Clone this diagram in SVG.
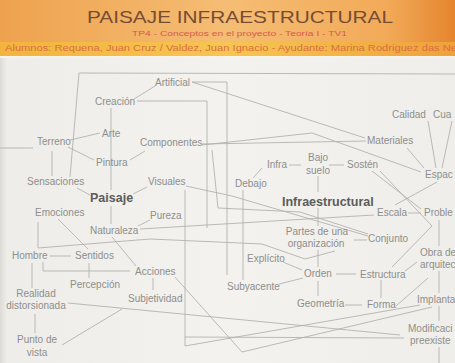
<svg xmlns="http://www.w3.org/2000/svg" width="455" height="363" viewBox="0 0 455 363">
<defs>
<linearGradient id="hdr" x1="0" y1="0" x2="1" y2="0">
<stop offset="0" stop-color="#eea24e"/>
<stop offset="0.5" stop-color="#f5bd74"/>
<stop offset="0.85" stop-color="#f2aa58"/>
<stop offset="1" stop-color="#e5852e"/>
</linearGradient>
<linearGradient id="stripe" x1="0" y1="0" x2="1" y2="0">
<stop offset="0" stop-color="#f2b43e"/>
<stop offset="0.5" stop-color="#f6c650"/>
<stop offset="1" stop-color="#eea23a"/>
</linearGradient>
<linearGradient id="page" x1="0" y1="0" x2="1" y2="0">
<stop offset="0" stop-color="#dcdbd6"/>
<stop offset="0.015" stop-color="#eeede9"/>
<stop offset="0.5" stop-color="#f3f2ee"/>
<stop offset="1" stop-color="#efeeea"/>
</linearGradient>
</defs>
<style>
.n{font-family:"Liberation Sans",Arial,sans-serif;font-size:10px;fill:#8e8e8c}
.b{font-family:"Liberation Sans",Arial,sans-serif;font-size:12.5px;font-weight:bold;fill:#5c5c5a}
.m{text-anchor:middle}
#connectors path{fill:none;stroke:#afafad;stroke-width:0.85}
</style>
<rect x="0" y="0" width="455" height="363" fill="url(#page)"/>
<g id="header">
<rect x="0" y="0" width="455" height="43" fill="url(#hdr)"/>
<rect x="0" y="42" width="455" height="14" fill="url(#stripe)"/>
<rect x="0" y="56" width="455" height="2" fill="#f7f3ea"/>
<text x="87" y="23" font-family="Liberation Sans, Arial, sans-serif" font-size="17" fill="#774c33" textLength="306" lengthAdjust="spacingAndGlyphs">PAISAJE INFRAESTRUCTURAL</text>
<text x="132" y="36" font-family="Liberation Sans, Arial, sans-serif" font-size="8" fill="#d65a4c" textLength="215" lengthAdjust="spacingAndGlyphs">TP4 - Conceptos en el proyecto - Teoría I - TV1</text>
<text x="5" y="51" font-family="Liberation Sans, Arial, sans-serif" font-size="8.5" fill="#da6e42" textLength="452" lengthAdjust="spacingAndGlyphs">Alumnos: Requena, Juan Cruz / Valdez, Juan Ignacio - Ayudante: Marina Rodriguez das Ne</text>
</g>
<g id="connectors">
<path d="M79,73 L455,74"/>
<path d="M79,73 L70,177"/>
<path d="M52,151 L52,176"/>
<path d="M0,148 L33,148"/>
<path d="M70,140 L100,133"/>
<path d="M68,147 L94,160"/>
<path d="M134,99 L155,86"/>
<path d="M137,101 L207,101 L207,228"/>
<path d="M111,108 L111,190"/>
<path d="M111,206 L111,224"/>
<path d="M130,160 L145,151"/>
<path d="M192,82 L365,138"/>
<path d="M192,82 L227,82 L227,275"/>
<path d="M202,144 L366,141"/>
<path d="M202,145 L312,133 L421,172"/>
<path d="M407,148 L424,168"/>
<path d="M428,121 L436,168"/>
<path d="M452,121 L442,168"/>
<path d="M289,165 L301,165"/>
<path d="M329,165 L344,165"/>
<path d="M262,168 L253,178"/>
<path d="M243,190 L243,280"/>
<path d="M318,176 L318,192 M318,208 L318,226 M318,250 L318,267 M318,281 L318,296"/>
<path d="M372,171 L421,209"/>
<path d="M380,171 L432,226 L392,267"/>
<path d="M437,182 L395,205"/>
<path d="M408,213 L421,213"/>
<path d="M439,220 L439,246"/>
<path d="M439,271 L439,293"/>
<path d="M439,306 L439,321"/>
<path d="M439,347 L439,363"/>
<path d="M405,271 L417,262"/>
<path d="M396,306 L428,278"/>
<path d="M354,240 L367,240"/>
<path d="M336,274 L356,274"/>
<path d="M345,305 L362,305"/>
<path d="M381,280 L381,298"/>
<path d="M283,262 L302,270"/>
<path d="M279,284 L303,278"/>
<path d="M186,186 L232,196 L368,236"/>
<path d="M140,229 L374,215"/>
<path d="M212,150 L218,208 L300,212 L368,234"/>
<path d="M138,226 L150,220"/>
<path d="M38,222 L38,248 L150,239 L262,244 L305,259 L335,251"/>
<path d="M58,219 L88,249"/>
<path d="M77,188 L90,195"/>
<path d="M147,187 L133,194"/>
<path d="M112,237 L136,266"/>
<path d="M43,262 L43,271 L130,271"/>
<path d="M50,256 L71,256"/>
<path d="M89,263 L89,278"/>
<path d="M153,278 L153,290"/>
<path d="M32,263 L32,288"/>
<path d="M35,314 L35,333"/>
<path d="M62,345 L122,309"/>
<path d="M68,303 L400,335"/>
<path d="M175,277 L242,352 L432,307"/>
<path d="M185,190 L185,346 L420,305"/>
<path d="M185,337 L404,338"/>
</g>
<g id="n-artificial"><text class="n" x="155" y="86">Artificial</text></g>
<g id="n-creacion"><text class="n" x="95" y="105">Creación</text></g>
<g id="n-arte"><text class="n" x="102" y="137">Arte</text></g>
<g id="n-terreno"><text class="n" x="37" y="145">Terreno</text></g>
<g id="n-componentes"><text class="n" x="140" y="146">Componentes</text></g>
<g id="n-pintura"><text class="n" x="96" y="166">Pintura</text></g>
<g id="n-sensaciones"><text class="n" x="27" y="185">Sensaciones</text></g>
<g id="n-visuales"><text class="n" x="148" y="185">Visuales</text></g>
<g id="n-paisaje"><text class="b" x="90" y="202">Paisaje</text></g>
<g id="n-emociones"><text class="n" x="35" y="216">Emociones</text></g>
<g id="n-pureza"><text class="n" x="150" y="219">Pureza</text></g>
<g id="n-naturaleza"><text class="n" x="90" y="234">Naturaleza</text></g>
<g id="n-hombre"><text class="n" x="12" y="259">Hombre</text></g>
<g id="n-sentidos"><text class="n" x="75" y="259">Sentidos</text></g>
<g id="n-acciones"><text class="n" x="135" y="275">Acciones</text></g>
<g id="n-percepcion"><text class="n" x="70" y="288">Percepción</text></g>
<g id="n-subjetividad"><text class="n" x="128" y="302">Subjetividad</text></g>
<g id="n-realidad"><text class="n m" x="36" y="297">Realidad</text><text class="n m" x="36" y="309">distorsionada</text></g>
<g id="n-punto"><text class="n m" x="37" y="343">Punto de</text><text class="n m" x="37" y="356">vista</text></g>
<g id="n-materiales"><text class="n" x="367" y="144">Materiales</text></g>
<g id="n-calidad"><text class="n" x="392" y="118">Calidad</text></g>
<g id="n-cua"><text class="n" x="433" y="118">Cua</text></g>
<g id="n-infra"><text class="n" x="267" y="168">Infra</text></g>
<g id="n-bajosuelo"><text class="n m" x="318" y="161">Bajo</text><text class="n m" x="318" y="174">suelo</text></g>
<g id="n-sosten"><text class="n" x="347" y="168">Sostén</text></g>
<g id="n-debajo"><text class="n" x="235" y="187">Debajo</text></g>
<g id="n-espacio"><text class="n" x="425" y="178">Espac</text></g>
<g id="n-infraestructural"><text class="b" x="282" y="206">Infraestructural</text></g>
<g id="n-escala"><text class="n" x="377" y="216">Escala</text></g>
<g id="n-problema"><text class="n" x="424" y="216">Proble</text></g>
<g id="n-partes"><text class="n m" x="317" y="235">Partes de una</text><text class="n m" x="316" y="247">organización</text></g>
<g id="n-conjunto"><text class="n" x="368" y="242">Conjunto</text></g>
<g id="n-obra"><text class="n" x="420" y="256">Obra de</text><text class="n" x="420" y="268">arquitec</text></g>
<g id="n-explicito"><text class="n" x="247" y="262">Explícito</text></g>
<g id="n-orden"><text class="n" x="304" y="277">Orden</text></g>
<g id="n-estructura"><text class="n" x="360" y="278">Estructura</text></g>
<g id="n-subyacente"><text class="n" x="227" y="290">Subyacente</text></g>
<g id="n-geometria"><text class="n" x="297" y="307">Geometría</text></g>
<g id="n-forma"><text class="n" x="367" y="308">Forma</text></g>
<g id="n-implantacion"><text class="n" x="417" y="303">Implanta</text></g>
<g id="n-modificacion"><text class="n" x="408" y="332">Modificaci</text><text class="n" x="410" y="344">preexiste</text></g>
</svg>
